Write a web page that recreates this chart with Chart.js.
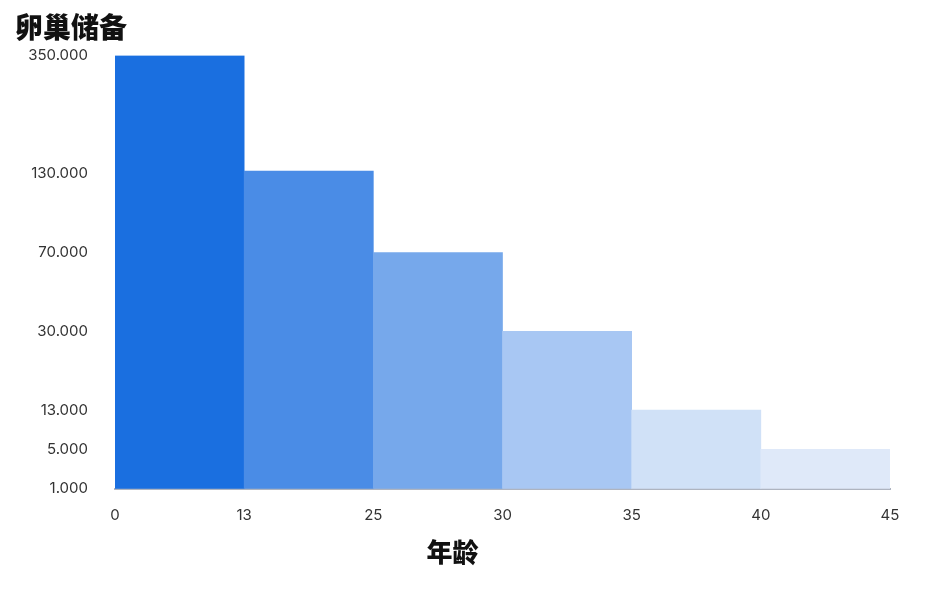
<!DOCTYPE html>
<html>
<head>
<meta charset="utf-8">
<script src="https://cdn.jsdelivr.net/npm/chart.js@4.4.1/dist/chart.umd.min.js"></script>
<style>
  body { margin: 0; background: #fff; }
  #wrap { width: 944px; height: 596px; }
</style>
</head>
<body>
<div id="wrap"><canvas id="ovary_chart" width="944" height="596"></canvas></div>
<script>
// age groups (bar edges) and ovarian reserve per group
var ageEdges = ["0", "13", "25", "30", "35", "40", "45"];
var groups = ["0-13", "13-25", "25-30", "30-35", "35-40", "40-45"];
var reserve = [350000, 135000, 70000, 30000, 13000, 5000];
var barColors = ["#1a6fe0", "#4a8ce6", "#76a8eb", "#a8c7f3", "#d0e1f7", "#dfe9f9"];

// y axis is not linear in the source: ticks sit on uneven slots
var yTicks = [1000, 5000, 13000, 30000, 70000, 130000, 350000];
var ySlots = [0, 1, 2, 4, 6, 8, 11];

class SlotScale extends Chart.Scale {
  determineDataLimits() {
    this.min = yTicks[0];
    this.max = yTicks[yTicks.length - 1];
  }
  buildTicks() {
    return yTicks.map(v => ({value: v}));
  }
  toSlot(v) {
    if (v <= yTicks[0]) return ySlots[0];
    for (var i = 1; i < yTicks.length; i++) {
      if (v <= yTicks[i]) {
        var t = (v - yTicks[i - 1]) / (yTicks[i] - yTicks[i - 1]);
        return ySlots[i - 1] + t * (ySlots[i] - ySlots[i - 1]);
      }
    }
    return ySlots[ySlots.length - 1];
  }
  getPixelForValue(v) {
    return this.getPixelForDecimal(this.toSlot(v) / ySlots[ySlots.length - 1]);
  }
  getPixelForTick(i) {
    return this.getPixelForValue(this.ticks[i].value);
  }
  getValueForPixel(p) {
    var s = this.getDecimalForPixel(p) * ySlots[ySlots.length - 1];
    for (var i = 1; i < ySlots.length; i++) {
      if (s <= ySlots[i]) {
        var t = (s - ySlots[i - 1]) / (ySlots[i] - ySlots[i - 1]);
        return yTicks[i - 1] + t * (yTicks[i] - yTicks[i - 1]);
      }
    }
    return yTicks[yTicks.length - 1];
  }
}
SlotScale.id = "slots";
SlotScale.defaults = {};
Chart.register(SlotScale);

function dots(v) {
  return String(v).replace(/\B(?=(\d{3})+(?!\d))/g, ".");
}

new Chart("ovary_chart", {
  type: "bar",
  data: {
    labels: groups,
    datasets: [{
      data: reserve,
      backgroundColor: barColors,
      borderWidth: 0,
      barPercentage: 1,
      categoryPercentage: 1,
      xAxisID: "x",
      yAxisID: "y"
    }]
  },
  options: {
    responsive: false,
    animation: false,
    layout: {padding: {left: 15, right: 54, top: 11, bottom: 28}},
    plugins: {
      legend: {display: false},
      tooltip: {enabled: false},
      title: {
        display: true,
        text: "卵巢储备",
        align: "start",
        color: "#111",
        font: {family: "'Noto Sans CJK SC'", size: 28, weight: "900"},
        padding: {top: 0, bottom: 11}
      },
      subtitle: {
        display: true,
        text: "年龄",
        position: "bottom",
        color: "#111",
        font: {family: "'Noto Sans CJK SC'", size: 26, weight: "900"},
        padding: {top: 0, bottom: 0}
      }
    },
    scales: {
      x: {
        type: "category",
        display: false
      },
      x2: {
        type: "linear",
        position: "bottom",
        offset: false,
        min: 0,
        max: 6,
        grid: {display: false, offset: false, drawTicks: false},
        border: {display: true, color: "#aeb4c0", width: 2},
        afterFit: function (s) { s.height -= 6; },
        ticks: {
          stepSize: 1,
          padding: 18,
          color: "#333",
          font: {family: "Inter", size: 15},
          callback: function (v) { return ageEdges[v]; }
        }
      },
      y: {
        type: "slots",
        position: "left",
        grid: {display: false},
        border: {display: false},
        afterFit: function (s) { s.width = 100; },
        ticks: {
          autoSkip: false,
          padding: 19,
          color: "#333",
          font: {family: "Inter", size: 15},
          callback: function (v) { return dots(v); }
        }
      }
    }
  }
});
</script>
</body>
</html>
